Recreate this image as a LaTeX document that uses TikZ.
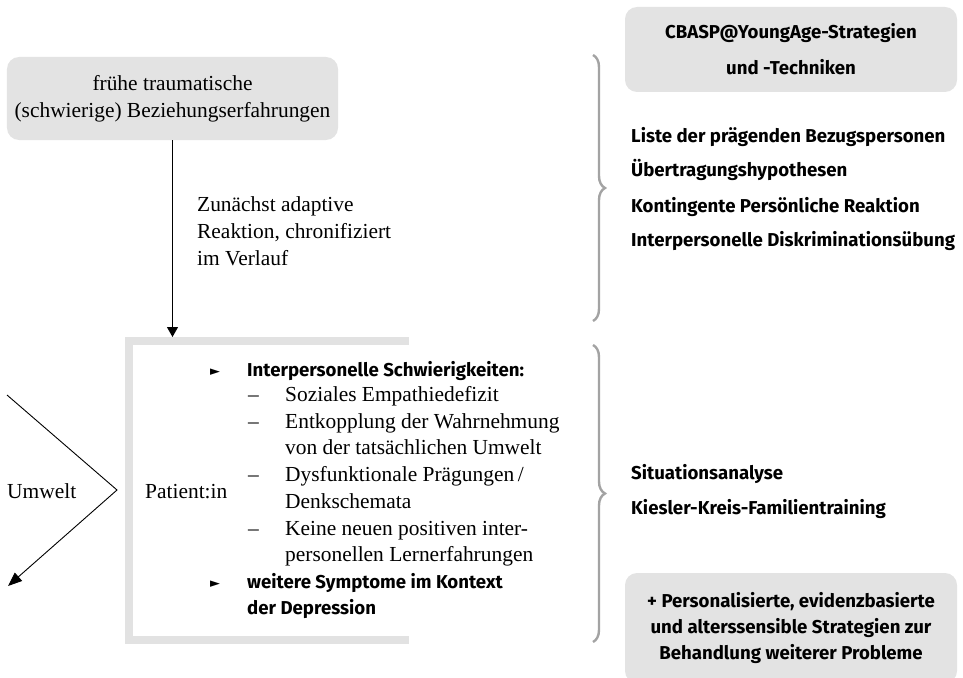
\documentclass[tikz,border=0pt]{standalone}
\usepackage{fontspec}
\setmainfont{Liberation Serif}
\setsansfont{Fira Sans}
\newfontfamily\symfont{DejaVu Sans}
\usetikzlibrary{arrows.meta,decorations.pathreplacing}
\definecolor{boxgray}{HTML}{E3E3E3}
\definecolor{framegray}{HTML}{E2E2E2}
\definecolor{bracegray}{HTML}{A3A3A3}
\tikzset{
  serif/.style={font=\fontsize{21.5}{26.5}\selectfont, inner sep=0pt},
  bsans/.style={font=\sffamily\bfseries\fontsize{18.7}{26.5}\selectfont, inner sep=0pt},
  greybox/.style={fill=boxgray, rounded corners=12bp, inner sep=0pt, align=center},
  arr/.style={line width=0.9bp, -{Triangle[length=10bp,width=11bp]}},
  bracestyle/.style={draw=bracegray, line width=2.4bp, decorate,
     decoration={brace, amplitude=12bp}},
  bul/.style={font=\symfont\fontsize{13}{14}\selectfont, inner sep=0pt},
}
\begin{document}
\begin{tikzpicture}[x=1bp,y=-1bp]
\useasboundingbox (0,0) rectangle (963,678);

% top-left box
\node[greybox, serif, minimum width=331bp, minimum height=83bp,
      font=\fontsize{21.5}{27}\selectfont] (early) at (172.5,98.5)
  {frühe traumatische\\(schwierige) Beziehungserfahrungen};

% patient frame
\coordinate (ftr) at (409,341);
\coordinate (ftl) at (129,341);
\coordinate (fbl) at (129,639.5);
\coordinate (fbr) at (409,639.5);
\draw[framegray, line width=8bp] (ftr) -- (ftl) -- (fbl) -- (fbr);
\coordinate (arrtip) at (173,337);
\draw[arr] (early.south) -- (early.south |- arrtip);

% label along arrow
\node[serif, anchor=base west] (z1) at (197,211) {Zunächst adaptive};
\node[serif, anchor=base west] (z2) at (197,238) {Reaktion, chronifiziert};
\node[serif, anchor=base west] (z3) at (197,265) {im Verlauf};

% Umwelt chevron
\coordinate (u1) at (7,395);
\coordinate (uv) at (117,490);
\coordinate (u2) at (8,586);
\draw[line width=0.9bp, -{Triangle[length=14bp,width=11bp]}] (u1) -- (uv) -- (u2);
\node[serif, anchor=base west] (umwelt) at (7,498) {Umwelt};
\node[serif, anchor=base west] (patient) at (145,498) {Patient:in};

% patient content
\node[bul, anchor=base west] (b1) at (210,375) {►};
\node[bsans, anchor=base west] (p1) at (247,376) {Interpersonelle Schwierigkeiten:};
\node[serif, anchor=base west] (d2) at (248,401) {–};
\node[serif, anchor=base west] (p2) at (285,401) {Soziales Empathiedefizit};
\node[serif, anchor=base west] (d3) at (248,428) {–};
\node[serif, anchor=base west] (p3) at (285,428) {Entkopplung der Wahrnehmung};
\node[serif, anchor=base west] (p4) at (285,454) {von der tatsächlichen Umwelt};
\node[serif, anchor=base west] (d5) at (248,481) {–};
\node[serif, anchor=base west] (p5) at (285,481) {Dysfunktionale Prägungen\,/};
\node[serif, anchor=base west] (p6) at (285,508) {Denkschemata};
\node[serif, anchor=base west] (d7) at (248,535) {–};
\node[serif, anchor=base west] (p7) at (285,535) {Keine neuen positiven inter-};
\node[serif, anchor=base west] (p8) at (285,561) {personellen Lernerfahrungen};
\node[bul, anchor=base west] (b9) at (210,587) {►};
\node[bsans, anchor=base west] (p9) at (247,588) {weitere Symptome im Kontext};
\node[bsans, anchor=base west] (p10) at (247,614) {der Depression};

% right side
\node[greybox, bsans, minimum width=332bp, minimum height=85bp,
      font=\sffamily\bfseries\fontsize{18.7}{36}\selectfont] (head) at (791,49.5)
  {CBASP@YoungAge-Strategien\\und -Techniken};

\coordinate (br1t) at (593,55);
\coordinate (br1b) at (593,321);
\draw[bracestyle] (br1t) -- (br1b);
\node[bsans, anchor=base west] (r1) at (631,143) {Liste der prägenden Bezugspersonen};
\node[bsans, anchor=base west] (r2) at (631,177) {Übertragungshypothesen};
\node[bsans, anchor=base west] (r3) at (631,212) {Kontingente Persönliche Reaktion};
\node[bsans, anchor=base west] (r4) at (631,246) {Interpersonelle Diskriminationsübung};

\coordinate (br2t) at (593,345);
\coordinate (br2b) at (593,642);
\draw[bracestyle] (br2t) -- (br2b);
\node[bsans, anchor=base west] (s1) at (631,479) {Situationsanalyse};
\node[bsans, anchor=base west] (s2) at (631,514) {Kiesler-Kreis-Familientraining};

\node[greybox, bsans, minimum width=332bp, minimum height=110bp] (extra) at (791,628)
  {+ Personalisierte, evidenzbasierte\\und alterssensible Strategien zur\\Behandlung weiterer Probleme};
\end{tikzpicture}
\end{document}
